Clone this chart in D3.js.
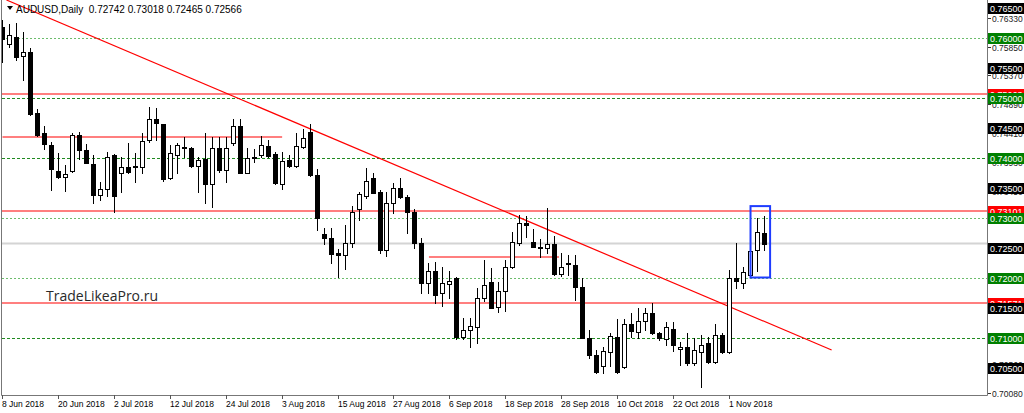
<!DOCTYPE html>
<html><head><meta charset="utf-8">
<script src="https://cdn.jsdelivr.net/npm/d3@7"></script>
<style>html,body{margin:0;padding:0;background:#fff;overflow:hidden}svg{display:block}</style>
</head><body>
<svg id="c" width="1024" height="413"></svg>
<script>
// ---------- data ----------
const symbol = "AUDUSD,Daily";
const lastOHLC = [0.72742, 0.73018, 0.72465, 0.72566];
const watermark = "TradeLikeaPro.ru";

const opens = [0.7618,0.75887,0.76013,0.75692,0.75763,0.74737,0.74403,0.74208,0.73775,0.7368,
0.7378,0.74375,0.74125,0.73892,0.73375,0.73475,0.74042,0.73747,0.73837,0.73858,
0.73847,0.74292,0.74642,0.74558,0.73653,0.74042,0.74175,0.74163,0.73858,0.7397,
0.73553,0.74163,0.73792,0.74237,0.74525,0.73747,0.74013,0.74042,0.74192,0.74053,
0.73553,0.73958,0.73858,0.7417,0.7443,0.73708,0.7272,0.72653,0.72403,0.72375,
0.7257,0.73137,0.73358,0.73663,0.7343,0.72458,0.73247,0.73487,0.73347,0.73097,
0.7258,0.71903,0.72108,0.71747,0.71887,0.71997,0.71003,0.71125,0.7118,0.71653,
0.7193,0.71513,0.7178,0.7217,0.7258,0.72903,0.72597,0.72513,0.72487,0.72553,
0.72058,0.72247,0.72208,0.71847,0.70997,0.70708,0.70525,0.70753,0.71003,0.70513,
0.71225,0.71087,0.7128,0.71403,0.7108,0.70975,0.71137,0.70803,0.70847,0.7058,
0.70763,0.70913,0.70597,0.71042,0.70763,0.71987,0.71903,0.72042,0.72458,0.72742];

const highs = [0.76292,0.76225,0.76237,0.76087,0.7582,0.74808,0.7453,0.74263,0.7407,0.73875,
0.74413,0.7442,0.7422,0.74042,0.73597,0.74087,0.74053,0.74013,0.74237,0.7408,
0.74403,0.74837,0.7482,0.74565,0.74208,0.74247,0.74347,0.7417,0.74013,0.74413,
0.74347,0.74347,0.74347,0.74637,0.74637,0.74153,0.74137,0.74358,0.74292,0.74097,
0.74097,0.74042,0.74403,0.7447,0.74553,0.73803,0.7283,0.7283,0.72475,0.72875,
0.73192,0.7343,0.7382,0.73737,0.73458,0.7343,0.7357,0.73653,0.73375,0.73137,
0.72653,0.72237,0.72263,0.7218,0.72113,0.72013,0.7132,0.7132,0.7183,0.72292,
0.72153,0.7193,0.72292,0.72753,0.73042,0.7303,0.72803,0.72637,0.73153,0.72692,
0.72403,0.72375,0.72375,0.71997,0.71125,0.70792,0.70847,0.7107,0.71303,0.71303,
0.71403,0.71487,0.71487,0.7158,0.71097,0.71253,0.71253,0.7093,0.7108,0.70987,
0.71042,0.71013,0.7122,0.7107,0.72125,0.7257,0.7218,0.72442,0.72997,0.73018];

const lows = [0.75597,0.75847,0.75625,0.75292,0.74713,0.74358,0.74142,0.73458,0.73663,0.73447,
0.73763,0.73975,0.73903,0.73237,0.73292,0.73358,0.73097,0.7343,0.73737,0.73597,
0.73747,0.74263,0.74292,0.73613,0.73637,0.73737,0.74013,0.73847,0.7343,0.73237,
0.7317,0.73763,0.73597,0.74208,0.73737,0.73737,0.7393,0.74013,0.74013,0.73553,
0.7347,0.73847,0.73847,0.74153,0.73697,0.72792,0.72553,0.72237,0.72013,0.7215,
0.72513,0.72958,0.7333,0.73405,0.72403,0.72358,0.7307,0.7332,0.72747,0.72487,
0.71737,0.71747,0.7157,0.71525,0.71653,0.7097,0.7097,0.70837,0.7091,0.71613,
0.71487,0.7143,0.71442,0.72153,0.72542,0.7268,0.7251,0.72347,0.72403,0.72042,
0.72025,0.72042,0.71625,0.70995,0.70653,0.70413,0.70413,0.70525,0.70413,0.705,
0.71013,0.70988,0.71125,0.71053,0.70958,0.70875,0.7078,0.70542,0.70542,0.70542,
0.7018,0.7058,0.7057,0.70737,0.70737,0.7182,0.7182,0.72013,0.72113,0.72465];

const closes = [0.7597,0.76047,0.7567,0.75763,0.7472,0.74375,0.7422,0.73803,0.7367,0.73725,
0.74375,0.74125,0.73913,0.73375,0.73475,0.74003,0.73358,0.73847,0.73763,0.73837,
0.7428,0.74642,0.7457,0.73637,0.7407,0.74208,0.74158,0.73858,0.73958,0.73553,
0.74163,0.73792,0.74163,0.74525,0.73747,0.73997,0.73987,0.74208,0.7403,0.7357,
0.73942,0.73858,0.74192,0.7432,0.73708,0.72987,0.72663,0.72387,0.7237,0.7258,
0.73097,0.73387,0.73608,0.73413,0.72458,0.73247,0.73487,0.73347,0.73087,0.7257,
0.71903,0.72108,0.71708,0.71908,0.71942,0.71003,0.71125,0.71192,0.71663,0.71875,
0.71497,0.71775,0.7218,0.72597,0.72903,0.72875,0.72513,0.72487,0.72558,0.72058,
0.7218,0.72225,0.71847,0.71,0.70708,0.7043,0.70775,0.71025,0.7043,0.71225,
0.71113,0.7128,0.71413,0.7107,0.70987,0.7117,0.70875,0.70847,0.7058,0.70792,
0.70875,0.70597,0.71042,0.70753,0.71987,0.71942,0.72097,0.72442,0.72753,0.72566];

const dateLabels = ["8 Jun 2018","20 Jun 2018","2 Jul 2018","12 Jul 2018","24 Jul 2018","3 Aug 2018",
"15 Aug 2018","27 Aug 2018","6 Sep 2018","18 Sep 2018","28 Sep 2018","10 Oct 2018","22 Oct 2018","1 Nov 2018"];
const dateLabelIndex = [0,8,16,24,32,40,48,56,64,72,80,88,96,104];

const gridLevels = [0.76, 0.75, 0.74, 0.73, 0.72, 0.71];
const gridShade  = ["light","dark","dark","light","light","dark"];
const blackLevels = [0.765, 0.755, 0.745, 0.735, 0.725, 0.715, 0.705];
const redLevels = [0.75063, 0.73101, 0.71571];
const axisTicks = [0.7633,0.7585,0.7537,0.7489,0.7441,0.7393,0.7345,0.7297,0.7249,0.7056,0.7008];
const bidPrice = 0.72566;

const redSegments = [
  {i0: 0, i1: 40, p0: 0.7435, p1: 0.7435},
  {i0: 61, i1: 79.6, p0: 0.7234, p1: 0.7234},
  {i0: 0.57, i1: 118.6, p0: 0.76625, p1: 0.70792}
];
const blueBox = {i0: 107, i1: 109.8, top: 0.7319, bottom: 0.7200};

// ---------- drawing ----------
const svg = d3.select("#c");
const plot = {left: 2, right: 987, top: 0, bottom: 395};
const x = d3.scaleLinear().domain([0, 109]).range([2.5, 764.5]);
const y = d3.scaleLinear().domain([0.76625, 0.70042]).range([plot.top, plot.bottom]);
const fmt = d3.format(".5f");
const FONT = "'Liberation Sans', Arial, sans-serif";

svg.append("defs").append("clipPath").attr("id","clip")
  .append("rect").attr("x",plot.left).attr("y",plot.top)
  .attr("width",plot.right-plot.left).attr("height",plot.bottom-plot.top);

const g = svg.append("g").attr("clip-path","url(#clip)");
const cy = p => Math.round(y(p)) + 0.5;
const ry = p => Math.round(y(p));

// grid (green) lines
g.selectAll("line.grid").data(gridLevels).join("line").attr("class","grid")
  .attr("x1", plot.left).attr("x2", plot.right)
  .attr("y1", d => cy(d)).attr("y2", d => cy(d))
  .attr("stroke", (d,i) => gridShade[i] === "light" ? "#6cbd6c" : "#1f8a1f")
  .attr("stroke-dasharray", (d,i) => gridShade[i] === "light" ? "2,2" : "3,2")
  .attr("stroke-width", 1);

// bid line
g.append("line").attr("x1", plot.left).attr("x2", plot.right)
  .attr("y1", y(bidPrice)).attr("y2", y(bidPrice))
  .attr("stroke", "#d4d4d4").attr("stroke-width", 2);

// red full-width levels
g.selectAll("line.red").data(redLevels).join("line").attr("class","red")
  .attr("x1", plot.left).attr("x2", plot.right)
  .attr("y1", d => ry(d)).attr("y2", d => ry(d))
  .attr("stroke", "#ff0000").attr("stroke-width", 1.2);

// red segments + trend line
g.selectAll("line.seg").data(redSegments).join("line").attr("class","seg")
  .attr("x1", d => x(d.i0)).attr("x2", d => x(d.i1))
  .attr("y1", d => d.p0 === d.p1 ? ry(d.p0) : y(d.p0))
  .attr("y2", d => d.p0 === d.p1 ? ry(d.p1) : y(d.p1))
  .attr("stroke", "#ff0000").attr("stroke-width", 1.2);

// watermark
svg.append("text").attr("x", 46).attr("y", 301)
  .attr("font-family", "'Open Sans', 'Liberation Sans', sans-serif").attr("font-size", 14)
  .attr("fill", "#2a2a2a").text(watermark);

// candles
const idx = d3.range(opens.length);
const cg = g.append("g").attr("shape-rendering","crispEdges");
idx.forEach(i => {
  const c = Math.floor(x(i));
  const o = opens[i], cl = closes[i], h = highs[i], l = lows[i];
  cg.append("line").attr("x1", c+0.5).attr("x2", c+0.5)
    .attr("y1", Math.round(y(h))).attr("y2", Math.round(y(l))+1)
    .attr("stroke", "#000").attr("stroke-width", 1);
  const top = Math.round(y(Math.max(o,cl))), bot = Math.round(y(Math.min(o,cl)));
  if (cl >= o) {
    cg.append("rect").attr("x", c-1.5).attr("y", top+0.5)
      .attr("width", 4).attr("height", Math.max(1, bot-top))
      .attr("fill", "#fff").attr("stroke", "#000").attr("stroke-width", 1);
  } else {
    cg.append("rect").attr("x", c-2).attr("y", top)
      .attr("width", 5).attr("height", Math.max(1, bot-top+1))
      .attr("fill", "#000");
  }
});

// blue box
g.append("rect").attr("x", x(blueBox.i0)).attr("y", y(blueBox.top))
  .attr("width", x(blueBox.i1)-x(blueBox.i0)).attr("height", y(blueBox.bottom)-y(blueBox.top))
  .attr("fill", "none").attr("stroke", "#1e3cff").attr("stroke-width", 2);

// frame
svg.append("line").attr("x1", 1.5).attr("x2", 1.5).attr("y1", 0).attr("y2", plot.bottom+0.5)
  .attr("stroke", "#777");
svg.append("line").attr("x1", plot.right+0.5).attr("x2", plot.right+0.5).attr("y1", 0).attr("y2", plot.bottom+0.5)
  .attr("stroke", "#777");
svg.append("line").attr("x1", 1.5).attr("x2", plot.right+0.5).attr("y1", plot.bottom+0.5).attr("y2", plot.bottom+0.5)
  .attr("stroke", "#777");

// header
svg.append("path").attr("d", "M7,6 L13,6 L10,10 Z").attr("fill", "#000");
svg.append("text").attr("x", 16).attr("y", 12.5)
  .attr("font-family", FONT).attr("font-size", 10).attr("fill", "#000")
  .attr("xml:space","preserve").style("white-space","pre")
  .text(symbol + "  " + lastOHLC.map(fmt).join(" "));

// bottom axis
const bx = svg.append("g");
dateLabelIndex.forEach((di, k) => {
  const c = Math.floor(x(di)) + 0.5;
  bx.append("line").attr("x1", c).attr("x2", c).attr("y1", plot.bottom).attr("y2", plot.bottom+4)
    .attr("stroke", "#555");
  bx.append("text").attr("x", c - 0.5).attr("y", 406.5)
    .attr("font-family", FONT).attr("font-size", 8.5).attr("fill", "#000").text(dateLabels[k]);
});

// right axis: plain ticks (drawn first, partly covered by level labels as in the reference)
const ra = svg.append("g");
axisTicks.forEach(p => {
  const yy = cy(p);
  ra.append("line").attr("x1", plot.right+1).attr("x2", plot.right+4).attr("y1", yy).attr("y2", yy)
    .attr("stroke", "#333");
  ra.append("text").attr("x", 992).attr("y", yy + 3)
    .attr("font-family", FONT).attr("font-size", 8.5).attr("fill", "#222").text(fmt(p));
});
function boxLabel(p, color) {
  const yy = y(p);
  ra.append("rect").attr("x", plot.right+1).attr("y", Math.round(yy) - 5)
    .attr("width", 1024 - plot.right - 1).attr("height", 11).attr("fill", color);
  ra.append("text").attr("x", 990).attr("y", Math.round(yy) + 3.5)
    .attr("font-family", FONT).attr("font-size", 9).attr("fill", "#fff").text(fmt(p));
}
redLevels.forEach(p => boxLabel(p, "#ff0000"));
gridLevels.forEach(p => boxLabel(p, "#008000"));
blackLevels.forEach(p => boxLabel(p, "#000"));
</script>
</body></html>
